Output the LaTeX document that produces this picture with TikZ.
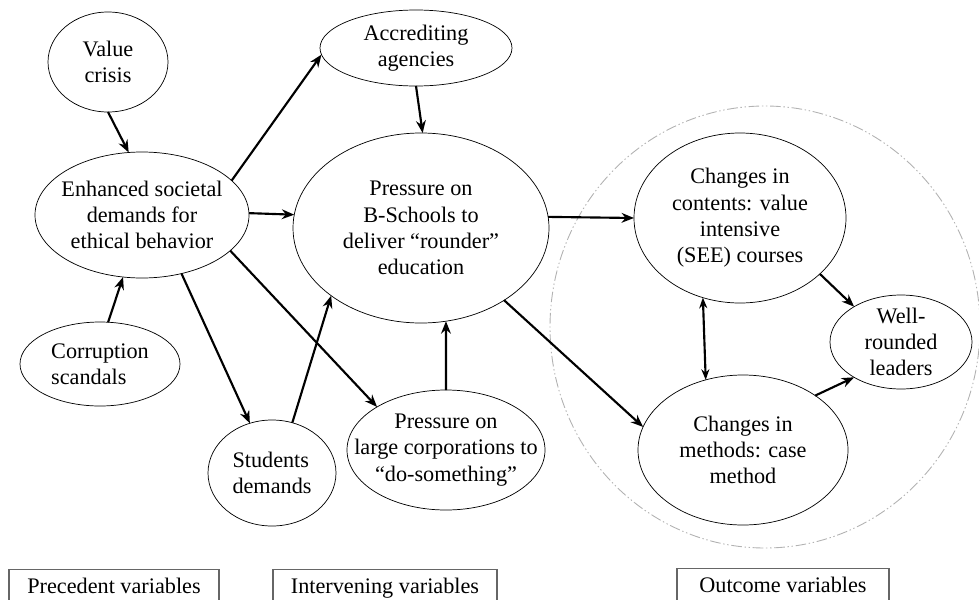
\documentclass[tikz,border=0pt]{standalone}
\usepackage{fontspec}
\setmainfont{Liberation Serif}
\usetikzlibrary{arrows.meta,shapes.geometric}

\begin{document}
\begin{tikzpicture}[x=0.5625pt, y=-0.5625pt,
	every node/.style={font=\fontsize{12.5}{14.8}\selectfont},
	var/.style 2 args={ellipse, draw, thin, inner xsep=-40pt, inner ysep=-30pt, outer sep=0pt, align=center,
		minimum width=#1*1.125pt, minimum height=#2*1.125pt},
	link/.style={-{Stealth[length=7pt, width=5.5pt]}, line width=1.2pt},
	kind/.style={draw=gray!80!black, line width=0.6pt, minimum width=#1*0.5625pt, anchor=north,
		inner xsep=0pt, inner ysep=4.5pt, text height=9pt, text depth=3pt}]
	\useasboundingbox (0,0) rectangle (979,599);
	% outcome region
	\draw[gray!60, line width=0.5pt, dash pattern=on 6pt off 1.5pt on 0.8pt off 1.5pt on 0.8pt off 1.5pt] (765,327) ellipse [x radius=215, y radius=221];
	% precedent
	\node[var={60}{50}] (vc) at (108,62) {Value\\crisis};
	\node[var={107}{63}] (en) at (142,215) {Enhanced societal\\demands for\\ethical behavior};
	\node[var={80}{42}, align=left] (cs) at (100,364) {Corruption\\scandals};
	% intervening
	\node[var={96}{38}] (acc) at (416,48) {Accrediting\\agencies};
	\node[var={128}{95}] (pr) at (421,228) {Pressure on\\B-Schools to\\deliver “rounder”\\education};
	\node[var={64}{53}, align=left] (st) at (272,473) {Students\\demands};
	\node[var={99}{60}] (lc) at (446,450) {Pressure on\\large corporations to\\“do-something”};
	% outcome
	\node[var={106}{85}] (cc) at (740,218) {Changes in\\contents: value\\intensive\\(SEE) courses};
	\node[var={105}{75}] (cm) at (743,450) {Changes in\\methods: case\\method};
	\node[var={71}{47}] (wr) at (901,342) {Well-\\rounded\\leaders};
	% links
	\draw[link] (vc.-90) -- (en.102);
	\draw[link] (cs.79) -- (en.253);
	\draw[link] (en.21) -- (acc.184);
	\draw[link] (en.1) -- (pr.174);
	\draw[link] (en.-56) -- (st.114);
	\draw[link] (en.-22) -- (lc.148);
	\draw[link] (acc.-90) -- (pr.89);
	\draw[link] (st.68) -- (pr.217);
	\draw[link] (lc.90) -- (pr.285);
	\draw[link] (pr.5) -- (cc.180);
	\draw[link] (pr.-41) -- (cm.167);
	\draw[link, {Stealth[length=6pt, width=4.5pt]}-{Stealth[length=6pt, width=4.5pt]}] (cc.245) -- (cm.118);
	\draw[link] (cc.-35) -- (wr.143);
	\draw[link] (cm.37) -- (wr.217);
	% legend boxes
	\node[kind=210] (pv) at (114,569) {Precedent variables};
	\node[kind=224] (iv) at (385,569) {Intervening variables};
	\node[kind=212] (ov) at (783,568) {Outcome variables};
\end{tikzpicture}
\end{document}
